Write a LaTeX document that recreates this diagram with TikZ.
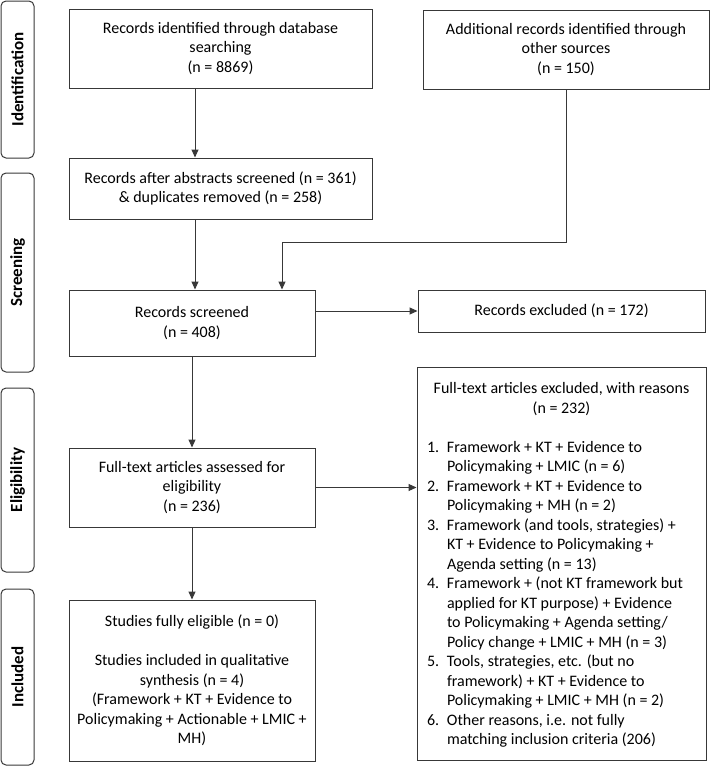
\documentclass[tikz,border=0pt]{standalone}
\usepackage{fontspec}
\setmainfont{Carlito}
\usepackage{tikz}
\definecolor{linegray}{rgb}{0.22, 0.22, 0.22}
\usetikzlibrary{arrows.meta}
\newcommand{\reasonitem}[2]{\par\noindent\hangindent=20pt\hangafter=1\makebox[20pt][l]{#1}#2}
\tikzset{
	stagebox/.style={draw=linegray, line width=1pt, rectangle, inner sep=0pt, align=center, font=\fontsize{16}{19.5}\selectfont},
	phasebox/.style={draw=linegray, line width=1pt, rounded corners=5pt, rotate=90, inner sep=0pt, minimum height=33pt, font=\fontsize{17}{20}\selectfont\bfseries},
	flow/.style={draw=linegray, line width=1pt, -{Triangle[length=8pt,width=7pt]}}
}

\begin{document}
\begin{tikzpicture}[x=1pt, y=-1pt]
			\useasboundingbox (0,0) rectangle (710,766);
			\node[phasebox, minimum width=157pt] (ident) at (17.5,79.5) {Identification};
			\node[phasebox, minimum width=199pt] (screen) at (17.5,272.5) {Screening};
			\node[phasebox, minimum width=184pt] (elig) at (17.5,480) {Eligibility};
			\node[phasebox, minimum width=176pt] (incl) at (17.5,677) {Included};
			
			\node[stagebox, minimum width=303pt, minimum height=79pt] (db) at (220.5,48.5) {Records identified through database\\searching\\(n = 8869)};
			\node[stagebox, minimum width=286pt, minimum height=79pt] (other) at (566,49.5) {Additional records identified through\\other sources\\(n = 150)};
			\node[stagebox, minimum width=303pt, minimum height=61pt] (dedup) at (220.5,188.5) {Records after abstracts screened (n = 361)\\\& duplicates removed (n = 258)};
			\node[stagebox, minimum width=246pt, minimum height=66pt] (screened) at (192,323) {Records screened\\(n = 408)};
			\node[stagebox, minimum width=287pt, minimum height=42pt] (excl) at (561.5,311) {Records excluded (n = 172)};
			\node[stagebox, minimum width=246pt, minimum height=79pt] (fulltext) at (192,487.5) {Full-text articles assessed for\\eligibility\\(n = 236)};
			\node[stagebox, minimum width=289pt, minimum height=393pt] (reasons) at (561.5,563.5) {\parbox[c][367pt][t]{269pt}{\fontsize{16}{19.5}\selectfont\centering\strut Full-text articles excluded, with reasons\\(n = 232)\par\vspace{19.5pt}\raggedright
				\reasonitem{1.}{Framework + KT + Evidence to\newline Policymaking + LMIC (n = 6)}
				\reasonitem{2.}{Framework + KT + Evidence to\newline Policymaking + MH (n = 2)}
				\reasonitem{3.}{Framework (and tools, strategies) +\newline KT + Evidence to Policymaking +\newline Agenda setting (n = 13)}
				\reasonitem{4.}{Framework + (not KT framework but\newline applied for KT purpose) + Evidence\newline to Policymaking + Agenda setting/\newline Policy change + LMIC + MH (n = 3)}
				\reasonitem{5.}{Tools, strategies, etc. (but no\newline framework) + KT + Evidence to\newline Policymaking + LMIC + MH (n = 2)}
				\reasonitem{6.}{Other reasons, i.e. not fully\newline matching inclusion criteria (206)}\par}};
			\node[stagebox, minimum width=246pt, minimum height=161pt] (synth) at (192,680.5) {Studies fully eligible (n = 0)\\[19.5pt]Studies included in qualitative\\synthesis (n = 4)\\(Framework + KT + Evidence to\\Policymaking + Actionable + LMIC +\\MH)};
			
			\draw[flow] ([xshift=3pt]db.south -| screened.north) -- ([xshift=3pt]dedup.north -| screened.north);
			\draw[flow] ([xshift=3pt]dedup.south -| screened.north) -- ([xshift=3pt]screened.north);
			\draw[flow] (other.south) -- ++(0,153) -| ([xshift=90pt]screened.north);
			\draw[flow] (screened.east |- excl.west) -- (excl.west);
			\draw[flow] (screened.south) -- (fulltext.north);
			\draw[flow] (fulltext.east) -- (fulltext.east -| reasons.west);
			\draw[flow] (fulltext.south) -- (synth.north);
			
			\end{tikzpicture}
\end{document}
